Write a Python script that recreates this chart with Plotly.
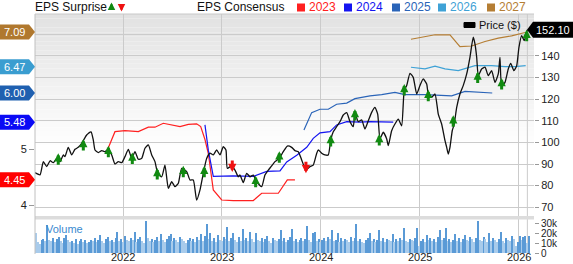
import plotly.graph_objects as go

# ---------------- data ----------------
PRICE_X = [2021.111, 2021.162, 2021.195, 2021.229, 2021.263, 2021.296, 2021.330, 2021.364, 2021.397, 2021.414,
           2021.447, 2021.482, 2021.515, 2021.548, 2021.583, 2021.633, 2021.677, 2021.700, 2021.717, 2021.751,
           2021.785, 2021.818, 2021.852, 2021.886, 2021.919, 2021.953, 2021.987, 2022.020, 2022.054, 2022.088,
           2022.121, 2022.155, 2022.189, 2022.222, 2022.256, 2022.290, 2022.323, 2022.351, 2022.391, 2022.424,
           2022.458, 2022.492, 2022.525, 2022.559, 2022.593, 2022.643, 2022.677, 2022.710, 2022.744,
           2022.778, 2022.811, 2022.845, 2022.879, 2022.912, 2022.946, 2022.980, 2023.013, 2023.040, 2023.054,
           2023.098, 2023.131, 2023.165, 2023.182, 2023.215, 2023.249, 2023.283, 2023.316, 2023.351, 2023.401,
           2023.434, 2023.468, 2023.502, 2023.535, 2023.579, 2023.619, 2023.660, 2023.704, 2023.737, 2023.771,
           2023.805, 2023.848, 2023.889, 2023.922, 2023.957, 2023.973, 2024.007, 2024.040, 2024.074, 2024.098,
           2024.124, 2024.158, 2024.192, 2024.225, 2024.260, 2024.293, 2024.326, 2024.343, 2024.377, 2024.411,
           2024.444, 2024.478, 2024.512, 2024.545, 2024.573, 2024.596, 2024.629, 2024.664, 2024.680, 2024.714,
           2024.747, 2024.781, 2024.815, 2024.841, 2024.866, 2024.899, 2024.932, 2024.967, 2025.000, 2025.033,
           2025.068, 2025.084, 2025.118, 2025.152, 2025.185, 2025.219, 2025.253, 2025.270, 2025.286, 2025.303,
           2025.326, 2025.346, 2025.371, 2025.404, 2025.437, 2025.472, 2025.505, 2025.538, 2025.556, 2025.573,
           2025.589, 2025.623, 2025.657, 2025.690, 2025.724, 2025.758, 2025.791, 2025.808, 2025.825, 2025.859,
           2025.892, 2025.917, 2025.949, 2025.977, 2026.000, 2026.027, 2026.054, 2026.072, 2026.085]
PRICE_Y = [86.0, 85.0, 91.1, 88.8, 91.5, 90.6, 92.6, 91.1, 94.2, 93.4,
           97.7, 94.2, 96.8, 97.7, 99.6, 103.4, 104.9, 101.1, 96.5, 95.3,
           96.2, 95.7, 96.8, 94.2, 90.0, 91.1, 90.6, 93.4, 96.8, 92.6,
           95.7, 92.2, 92.6, 97.3, 98.8, 94.2, 91.1, 85.7, 84.1, 89.5,
           78.7, 81.8, 79.5, 81.1, 88.0, 86.5, 82.6, 82.6, 73.3,
           78.0, 85.7, 92.6, 95.0, 94.2, 96.5, 94.2, 98.0, 96.5, 88.0,
           89.1, 87.2, 84.1, 84.9, 81.4, 85.7, 84.1, 84.9, 81.8, 79.5,
           84.9, 87.2, 89.1, 91.1, 92.6, 95.7, 98.3, 97.7, 96.2, 95.7,
           91.9, 87.2, 88.8, 89.5, 95.0, 96.5, 95.0, 94.2, 94.2, 101.1,
           104.9, 107.3, 109.6, 112.7, 113.8, 109.6, 107.3, 113.5, 109.6, 110.4,
           106.2, 110.0, 113.9, 116.2, 113.1, 101.6, 104.7, 101.6, 98.5, 105.4,
           108.5, 110.8, 107.7, 124.0, 126.3, 132.0, 130.1, 122.4, 126.3, 129.4,
           127.0, 122.4, 120.9, 122.4, 113.1, 108.5, 100.8, 97.7, 94.6, 97.7,
           105.4, 108.5, 116.2, 122.4, 126.3, 131.7, 139.4, 148.7, 145.5, 139.4,
           130.9, 134.0, 134.8, 130.9, 133.2, 127.8, 131.7, 139.4, 126.3, 127.8,
           134.0, 136.6, 133.2, 135.5, 144.0, 149.4, 147.1, 150.2, 152.1]

EPS23_X = [2021.835, 2021.919, 2022.020, 2022.155, 2022.256, 2022.323, 2022.407, 2022.492, 2022.576, 2022.660,
           2022.744, 2022.785, 2022.828, 2022.862, 2022.896, 2022.912, 2022.997, 2023.114, 2023.316, 2023.401,
           2023.569, 2023.660, 2023.737]
EPS23_Y = [4.95, 5.31, 5.33, 5.31, 5.39, 5.39, 5.46, 5.43, 5.40, 5.44,
           5.45, 5.40, 5.17, 4.92, 4.45, 4.27, 4.09, 4.08, 4.08, 4.21,
           4.21, 4.45, 4.45]
EPS24_X = [2022.828, 2022.862, 2022.912, 2023.114, 2023.316, 2023.452, 2023.586, 2023.654, 2023.755, 2023.856,
           2023.922, 2023.990, 2024.091, 2024.158, 2024.260, 2024.394, 2024.495, 2024.730]
EPS24_Y = [5.43, 4.98, 4.51, 4.52, 4.51, 4.60, 4.61, 4.77, 4.89, 5.03,
           5.19, 5.29, 5.31, 5.43, 5.49, 5.48, 5.49, 5.48]
EPS25_X = [2023.828, 2023.906, 2023.990, 2024.074, 2024.158, 2024.260, 2024.343, 2024.495, 2024.613, 2024.747,
           2024.848, 2025.051, 2025.320, 2025.455, 2025.730]
EPS25_Y = [5.34, 5.65, 5.71, 5.71, 5.80, 5.82, 5.90, 5.95, 5.97, 6.01,
           5.97, 5.97, 5.95, 6.03, 6.00]
EPS26_X = [2024.909, 2025.051, 2025.152, 2025.253, 2025.387, 2025.472, 2025.556, 2025.724, 2025.859, 2025.960, 2026.068]
EPS26_Y = [6.46, 6.43, 6.48, 6.43, 6.40, 6.45, 6.49, 6.49, 6.47, 6.47, 6.49]
EPS27_X = [2024.909, 2025.000, 2025.084, 2025.152, 2025.303, 2025.404, 2025.522, 2025.657, 2025.791, 2025.926, 2026.061]
EPS27_Y = [6.96, 6.99, 7.01, 7.04, 7.04, 6.83, 6.84, 6.92, 6.98, 7.02, 7.08]

BEAT_X = [2021.346, 2021.599, 2021.852, 2022.094, 2022.346, 2022.609, 2022.821, 2023.340, 2023.579,
          2024.098, 2024.343, 2024.589, 2024.841, 2025.084, 2025.336, 2025.583, 2025.825, 2026.078]
BEAT_Y = [92.2, 98.8, 95.7, 92.6, 85.4, 86.4, 86.4, 81.8, 93.1,
          100.6, 112.7, 101.1, 124.3, 121.6, 109.8, 130.1, 127.0, 149.4]
MISS_X = [2023.104, 2023.848]
MISS_Y = [89.1, 88.5]

VOL_START = 2021.12
VOLUME_K = [20, 11, 9, 13, 14, 12, 28, 13, 12, 15,
            11, 14, 16, 12, 10, 15, 18, 13, 11, 12,
            10, 14, 9, 12, 14, 11, 13, 10, 11, 13,
            12, 15, 11, 13, 18, 12, 10, 14, 16, 12,
            13, 11, 15, 21, 12, 14, 11, 17, 13, 12,
            15, 13, 21, 11, 14, 16, 12, 10, 32, 15,
            12, 14, 11, 13, 16, 12, 19, 13, 11, 14,
            17, 19, 12, 15, 13, 11, 16, 14, 12, 10,
            13, 15, 12, 14, 11, 16, 13, 19, 12, 17,
            29, 14, 20, 12, 15, 11, 18, 13, 12, 16,
            14, 26, 12, 15, 20, 13, 11, 16, 12, 24,
            13, 15, 12, 21, 14, 11, 20, 13, 12, 15,
            11, 14, 17, 12, 10, 15, 13, 12, 14, 23,
            12, 15, 11, 13, 16, 24, 12, 14, 11, 13,
            15, 12, 14, 27, 13, 11, 20, 21, 12, 14,
            11, 13, 15, 12, 16, 14, 23, 12, 13, 20,
            11, 15, 12, 14, 13, 11, 16, 12, 15, 29,
            12, 14, 11, 10, 13, 15, 20, 12, 14, 11,
            13, 23, 12, 15, 11, 14, 13, 12, 19, 11,
            14, 12, 15, 13, 25, 12, 11, 14, 13, 12,
            15, 25, 7, 12, 14, 11, 18, 13, 15, 12,
            14, 11, 16, 23, 13, 15, 25, 12, 14, 11,
            13, 19, 12, 15, 11, 14, 18, 13, 12, 16,
            14, 11, 15, 32, 13, 12, 16, 14, 11, 20,
            12, 15, 13, 11, 14, 21, 12, 10, 15, 13,
            12, 17, 14, 7, 11, 17, 13, 16, 17, 10,
            17]

YEAR_TICKS = [2022, 2023, 2024, 2025, 2026]
YEAR_LABELS = ["2022", "2023", "2024", "2025", "2026"]
PRICE_TICKS = [70, 80, 90, 100, 110, 120, 130, 140, 150]
PRICE_LABELS = ["70", "80", "90", "100", "110", "120", "130", "140", ""]
EPS_TICKS = [4, 5]
VOL_TICKS = [0, 10, 20, 30]
VOL_LABELS = ["0", "10k", "20k", "30k"]

SERIES = ["2023", "2024", "2025", "2026", "2027"]
SERIES_COLORS = ["#ff2020", "#1414f0", "#2a64b8", "#3fa2d6", "#b57e34"]
TAG_VALUES = [4.45, 5.48, 6.00, 6.47, 7.09]
TAG_COLORS = ["#ff0000", "#0a0af5", "#1f60b0", "#3a9dd0", "#b0782e"]
LAST_PRICE = 152.10

# ---------------- layout constants ----------------
W, H = 573, 264
ML, MR, MT, MB = 35, 39, 14, 10
PW, PH = W - ML - MR, H - MT - MB
MAIN_DOM = [38 / PH, 1.0]
VOL_DOM = [0.0, 36 / PH]
X_RANGE = [2021.111, 2026.152]
EPS_RANGE = [3.804, 7.411]
PRICE_RANGE = [65.93, 159.44]
VOL_RANGE = [-1, 35]
FONT = "Liberation Sans, Arial, sans-serif"
GRID = "#cbcbcb"


def px_to_paper_x(px):
    return (px - ML) / PW


def px_to_paper_y(py):
    return (H - MB - py) / PH


def eps_paper(v):
    return MAIN_DOM[0] + (v - EPS_RANGE[0]) / (EPS_RANGE[1] - EPS_RANGE[0]) * (MAIN_DOM[1] - MAIN_DOM[0])


def price_paper(v):
    return MAIN_DOM[0] + (v - PRICE_RANGE[0]) / (PRICE_RANGE[1] - PRICE_RANGE[0]) * (MAIN_DOM[1] - MAIN_DOM[0])


fig = go.Figure()

# volume bars
vol_x = [VOL_START + i * 7 / 365.25 for i in range(len(VOLUME_K))]
vol_colors = ["#5a9ad6" if (i > 0 and v > VOLUME_K[i - 1]) else "#a8cbeb" for i, v in enumerate(VOLUME_K)]
fig.add_trace(go.Bar(x=vol_x, y=VOLUME_K, marker=dict(color=vol_colors, line=dict(width=0)),
                     width=0.0105, xaxis="x", yaxis="y3", showlegend=False))

# EPS consensus lines
for xs, ys, c in zip([EPS23_X, EPS24_X, EPS25_X, EPS26_X, EPS27_X],
                     [EPS23_Y, EPS24_Y, EPS25_Y, EPS26_Y, EPS27_Y], SERIES_COLORS):
    fig.add_trace(go.Scatter(x=xs, y=ys, mode="lines", line=dict(color=c, width=1.2),
                             xaxis="x", yaxis="y", showlegend=False))

# price
fig.add_trace(go.Scatter(x=PRICE_X, y=PRICE_Y, mode="lines",
                         line=dict(color="#111111", width=1.3, shape="spline", smoothing=0.5),
                         xaxis="x", yaxis="y2", showlegend=False))

annotations = []
shapes = []

# surprise arrows
for x, y in zip(BEAT_X, BEAT_Y):
    annotations.append(dict(x=x, y=y, xref="x", yref="y2", text="", showarrow=True, ax=0, ay=13,
                            yshift=6, arrowhead=2, arrowsize=0.55, arrowwidth=3, arrowcolor="#118a11", standoff=0))
for x, y in zip(MISS_X, MISS_Y):
    annotations.append(dict(x=x, y=y, xref="x", yref="y2", text="", showarrow=True, ax=0, ay=-13,
                            yshift=-6, arrowhead=2, arrowsize=0.55, arrowwidth=3, arrowcolor="#ee1111", standoff=0))

# background gradient in main panel
n_b = 30
top_p, bot_p = 1.0, px_to_paper_y(150)
for i in range(n_b):
    t = i / (n_b - 1)
    g = int(round(0xe2 + (0xff - 0xe2) * t))
    col = f"rgb({g},{g},{g})"
    y1 = top_p - (top_p - bot_p) * i / n_b
    y0 = top_p - (top_p - bot_p) * (i + 1) / n_b
    shapes.append(dict(type="rect", xref="paper", yref="paper", x0=0, x1=1, y0=y0, y1=y1,
                       fillcolor=col, line=dict(width=0), layer="below"))
# band between panels
shapes.append(dict(type="rect", xref="paper", yref="paper", x0=0, x1=1,
                   y0=px_to_paper_y(219.5), y1=px_to_paper_y(216),
                   fillcolor="#dcdcdc", line=dict(width=0), layer="above"))
# left border and top border
shapes.append(dict(type="line", xref="paper", yref="paper", x0=0, x1=0, y0=0, y1=1,
                   line=dict(color="#c0c0c0", width=1)))
shapes.append(dict(type="line", xref="paper", yref="paper", x0=0, x1=1, y0=1, y1=1,
                   line=dict(color="#c8c8c8", width=1)))
# last-date line
shapes.append(dict(type="line", xref="x", yref="paper", x0=PRICE_X[-1], x1=PRICE_X[-1], y0=0, y1=1,
                   line=dict(color=GRID, width=1), layer="below"))

# left EPS tags
for v, c in zip(TAG_VALUES, TAG_COLORS):
    yc = eps_paper(v)
    hh = 7.5 / PH
    x0, xb, xt = px_to_paper_x(0), px_to_paper_x(29), px_to_paper_x(35)
    shapes.append(dict(type="path", xref="paper", yref="paper",
                       path=f"M {x0},{yc - hh} L {xb},{yc - hh} L {xt},{yc} L {xb},{yc + hh} L {x0},{yc + hh} Z",
                       fillcolor=c, line=dict(width=0)))
    annotations.append(dict(x=px_to_paper_x(14), y=yc, xref="paper", yref="paper", text=f"{v:.2f}",
                            showarrow=False, font=dict(family=FONT, size=11, color="white"),
                            xanchor="center", yanchor="middle"))

# right price tag
yc = price_paper(LAST_PRICE)
hh = 8 / PH
xt, xb, xe = px_to_paper_x(527), px_to_paper_x(533), px_to_paper_x(573)
shapes.append(dict(type="path", xref="paper", yref="paper",
                   path=f"M {xt},{yc} L {xb},{yc + hh} L {xe},{yc + hh} L {xe},{yc - hh} L {xb},{yc - hh} Z",
                   fillcolor="#000000", line=dict(width=0)))
annotations.append(dict(x=px_to_paper_x(553), y=yc, xref="paper", yref="paper", text=f"{LAST_PRICE:.2f}",
                        showarrow=False, font=dict(family=FONT, size=11, color="white"),
                        xanchor="center", yanchor="middle"))

# price legend inside plot
shapes.append(dict(type="rect", xref="paper", yref="paper",
                   x0=px_to_paper_x(464), x1=px_to_paper_x(475),
                   y0=px_to_paper_y(27.5), y1=px_to_paper_y(22.5),
                   fillcolor="#000000", line=dict(color="#000000", width=1)))
annotations.append(dict(x=px_to_paper_x(478), y=px_to_paper_y(25), xref="paper", yref="paper",
                        text="Price ($)", showarrow=False, font=dict(family=FONT, size=11, color="#111111"),
                        xanchor="left", yanchor="middle", borderpad=0))

# header: EPS Surprise
hy = px_to_paper_y(7.5)
annotations.append(dict(x=px_to_paper_x(34), y=hy, xref="paper", yref="paper", text="EPS Surprise",
                        showarrow=False, font=dict(family=FONT, size=12, color="#111111"),
                        xanchor="left", yanchor="middle", borderpad=0))
annotations.append(dict(x=px_to_paper_x(111.5), y=px_to_paper_y(2.5), xref="paper", yref="paper", text="",
                        showarrow=True, ax=0, ay=9, arrowhead=2, arrowsize=0.6, arrowwidth=2.5,
                        arrowcolor="#118a11", standoff=0))
annotations.append(dict(x=px_to_paper_x(121.5), y=px_to_paper_y(11.5), xref="paper", yref="paper", text="",
                        showarrow=True, ax=0, ay=-9, arrowhead=2, arrowsize=0.6, arrowwidth=2.5,
                        arrowcolor="#ee1111", standoff=0))
# header: EPS Consensus
annotations.append(dict(x=px_to_paper_x(196), y=hy, xref="paper", yref="paper", text="EPS Consensus",
                        showarrow=False, font=dict(family=FONT, size=12, color="#111111"),
                        xanchor="left", yanchor="middle", borderpad=0))
sq_px = [297, 344, 392, 438, 487]
for name, c, sx in zip(SERIES, SERIES_COLORS, sq_px):
    shapes.append(dict(type="rect", xref="paper", yref="paper",
                       x0=px_to_paper_x(sx), x1=px_to_paper_x(sx + 8),
                       y0=px_to_paper_y(11.5), y1=px_to_paper_y(3.5),
                       fillcolor=c, line=dict(width=0)))
    annotations.append(dict(x=px_to_paper_x(sx + 11), y=hy, xref="paper", yref="paper", text=name,
                            showarrow=False, font=dict(family=FONT, size=12, color=c),
                            xanchor="left", yanchor="middle", borderpad=0))

# volume label
annotations.append(dict(x=px_to_paper_x(45), y=px_to_paper_y(229), xref="paper", yref="paper", text="Volume",
                        showarrow=False, font=dict(family=FONT, size=11, color="#3a8ad0"),
                        xanchor="left", yanchor="middle", borderpad=0))

tickfont = dict(family=FONT, size=11, color="#222222")

# year labels under the volume panel
for tv, tl in zip(YEAR_TICKS, YEAR_LABELS):
    annotations.append(dict(x=tv, y=px_to_paper_y(264), xref="x", yref="paper", text=tl,
                            showarrow=False, font=tickfont, xanchor="center", yanchor="bottom", borderpad=0))

fig.update_layout(
    width=W, height=H,
    margin=dict(l=ML, r=MR, t=MT, b=MB, autoexpand=False),
    paper_bgcolor="white", plot_bgcolor="rgba(0,0,0,0)",
    showlegend=False, bargap=0,
    xaxis=dict(range=X_RANGE, anchor="y3", tickvals=YEAR_TICKS, showticklabels=False,
               showgrid=True, gridcolor=GRID, gridwidth=1, zeroline=False, showline=False,
               ticks="", automargin=False),
    yaxis=dict(domain=MAIN_DOM, range=EPS_RANGE, side="left", tickvals=EPS_TICKS,
               showgrid=False, zeroline=False, ticks="outside", ticklen=5, tickcolor="#999999",
               tickfont=tickfont, showline=False, automargin=False),
    yaxis2=dict(domain=MAIN_DOM, range=PRICE_RANGE, side="right", overlaying="y", anchor="x",
                tickvals=PRICE_TICKS, ticktext=PRICE_LABELS, showgrid=True, gridcolor=GRID, gridwidth=1,
                zeroline=False, ticks="outside", ticklen=4, tickcolor="#999999", tickfont=tickfont,
                automargin=False),
    yaxis3=dict(domain=VOL_DOM, range=VOL_RANGE, side="right", anchor="x",
                tickvals=VOL_TICKS, ticktext=VOL_LABELS, showgrid=False, zeroline=False,
                ticks="outside", ticklen=4, tickcolor="#999999",
                tickfont=dict(family=FONT, size=10, color="#222222"), automargin=False),
    shapes=shapes,
    annotations=annotations,
)

fig.write_html("out.html")
